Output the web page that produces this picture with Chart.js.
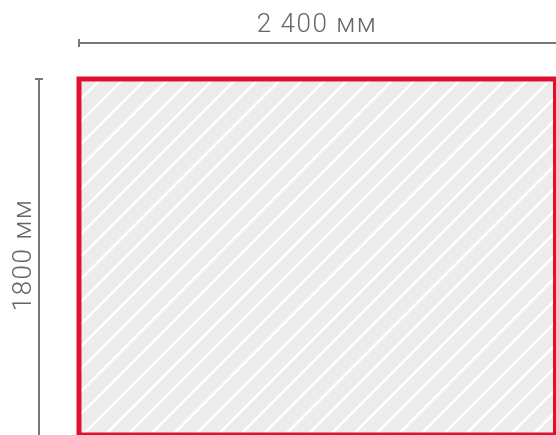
<!DOCTYPE html>
<html>
<head>
<meta charset="utf-8">
<script src="https://cdn.jsdelivr.net/npm/chart.js@4.4.1/dist/chart.umd.min.js"></script>
<style>
  html, body { margin: 0; padding: 0; background: #ffffff; }
  #wrap { width: 556px; height: 435px; position: relative; }
</style>
</head>
<body>
<div id="wrap"><canvas id="c" width="556" height="435"></canvas></div>
<script>
// Sheet size (mm)
const sheetWidth = 2400;
const sheetHeight = 1800;
// Outline corners of the sheet (mm)
const outlineX = [0, 0, 2400, 2400, 0];
const outlineY = [0, 1800, 1800, 0, 0];
// Dimension labels
const widthLabel = '2 400 мм';
const heightLabel = '1800 мм';

function makeHatch(ctx) {
  const s = 45;
  const t = document.createElement('canvas');
  t.width = s; t.height = s;
  const g = t.getContext('2d');
  g.fillStyle = '#ececec';
  g.fillRect(0, 0, s, s);
  g.strokeStyle = '#ffffff';
  g.lineWidth = 2.6;
  [-22.5, 0, 22.5, 45, 67.5, 90, 112.5].forEach(c => {
    g.beginPath();
    g.moveTo(c + 10, -10);
    g.lineTo(c - s - 10, s + 10);
    g.stroke();
  });
  return ctx.createPattern(t, 'repeat');
}

const hatchPlugin = {
  id: 'hatch',
  beforeDatasetsDraw(chart) {
    const ctx = chart.ctx;
    const xs = chart.scales.x, ys = chart.scales.y;
    const px = outlineX.map(v => xs.getPixelForValue(v));
    const py = outlineY.map(v => ys.getPixelForValue(v));
    ctx.save();
    ctx.fillStyle = makeHatch(ctx);
    ctx.beginPath();
    px.forEach((x, i) => i ? ctx.lineTo(x, py[i]) : ctx.moveTo(x, py[i]));
    ctx.closePath();
    ctx.fill();
    ctx.restore();
  }
};

const dimPlugin = {
  id: 'dims',
  afterDatasetsDraw(chart) {
    const ctx = chart.ctx;
    const xs = chart.scales.x, ys = chart.scales.y;
    const x0 = xs.getPixelForValue(0), x1 = xs.getPixelForValue(sheetWidth);
    const y0 = ys.getPixelForValue(sheetHeight), y1 = ys.getPixelForValue(0);
    ctx.save();
    ctx.strokeStyle = '#777777';
    ctx.lineWidth = 2;
    const hy = 43;
    ctx.beginPath();
    ctx.moveTo(x0, hy); ctx.lineTo(x1 + 5, hy);
    ctx.moveTo(x0, hy - 4); ctx.lineTo(x0, hy + 4);
    ctx.stroke();
    const vx = 39;
    ctx.beginPath();
    ctx.moveTo(vx, y0); ctx.lineTo(vx, y1 + 5);
    ctx.moveTo(vx - 4, y0); ctx.lineTo(vx + 4, y0);
    ctx.stroke();
    ctx.fillStyle = '#666666';
    ctx.font = '300 26px Roboto, "Liberation Sans", sans-serif';
    try { ctx.letterSpacing = '1.5px'; } catch (e) {}
    ctx.textAlign = 'center';
    ctx.textBaseline = 'middle';
    ctx.fillText(widthLabel, 317, 25);
    ctx.translate(24.5, 255);
    ctx.rotate(-Math.PI / 2);
    ctx.fillText(heightLabel, 0, 0);
    ctx.restore();
  }
};

new Chart(document.getElementById('c'), {
  type: 'line',
  data: {
    datasets: [{
      data: outlineX.map((x, i) => ({ x: x, y: outlineY[i] })),
      borderColor: '#e2102e',
      borderWidth: 5,
      borderJoinStyle: 'miter',
      fill: false,
      pointRadius: 0,
      tension: 0,
      clip: false
    }]
  },
  options: {
    responsive: false,
    animation: false,
    layout: { padding: { left: 79, top: 79, right: 0.5, bottom: 0 } },
    scales: {
      x: { type: 'linear', min: 0, max: sheetWidth, display: false },
      y: { type: 'linear', min: 0, max: sheetHeight, display: false }
    },
    plugins: { legend: { display: false }, tooltip: { enabled: false } }
  },
  plugins: [hatchPlugin, dimPlugin]
});
</script>
</body>
</html>
